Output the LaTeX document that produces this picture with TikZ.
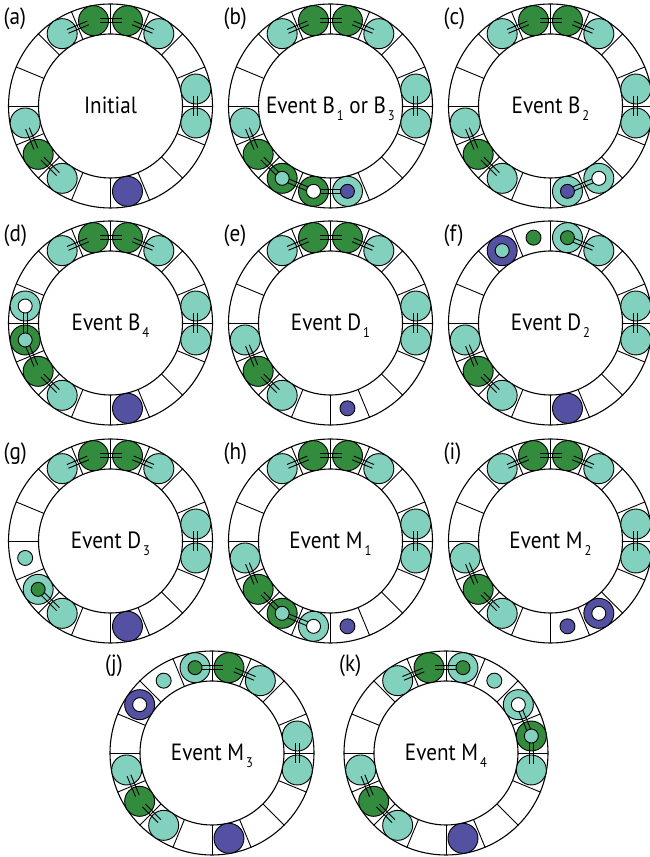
\documentclass[tikz,border=0pt]{standalone}
\usepackage{fontspec}
\setmainfont{PT Sans}[FakeStretch=0.9]
\usetikzlibrary{calc}

\definecolor{tealdisc}{HTML}{82D0BE}
\definecolor{greendisc}{HTML}{338B3E}
\definecolor{bluedisc}{HTML}{5451A3}

\tikzset{
  ringline/.style={line width=1.1pt},
  sectorline/.style={line width=0.9pt},
  discline/.style={draw=black, line width=0.9pt},
  bondline/.style={line width=0.9pt},
  paneltag/.style={font=\fontsize{23.5}{26}\selectfont, inner sep=0pt, anchor=west},
  eventtext/.style={font=\fontsize{23.5}{26}\selectfont, inner sep=0pt, anchor=base},
}

% lowered subscript used in the event names
\newcommand\lowsub[1]{\kern2pt\raisebox{-7pt}{\fontsize{14}{14}\selectfont #1}}

% ring of 16 sectors; coordinates #1-0 ... #1-15 mark the sector centres
\newcommand\drawring[5]{%
  \coordinate (#1) at (#2,#3);
  \draw[ringline] (#1) circle[radius=102pt];
  \draw[ringline] (#1) circle[radius=72pt];
  \foreach \k in {0,...,15}{
    \draw[sectorline] ($(#1)+({22.5*\k}:72pt)$) -- ($(#1)+({22.5*\k}:102pt)$);
    \coordinate (#1-\k) at ($(#1)+({11.25+22.5*\k}:87pt)$);
  }
  \node[paneltag] (#1-tag) at ($(#1)+(-107pt,87pt)$) {(#1)};
  \node[eventtext] (#1-title) at ($(#1)+(0,-8pt)$) {#5};
}

\newcommand\disc[2]{\fill[#2, discline] (#1) circle[radius=15pt];}
\newcommand\hole[2]{\fill[#2, discline] (#1) circle[radius=7pt];}
\newcommand\smalldisc[2]{\fill[#2, discline] (#1) circle[radius=7.5pt];}

% double bond between two sites; #3 and #4 give its reach from the midpoint
\newcommand\bond[4]{%
  \coordinate (bondmid) at ($(#1)!0.5!(#2)$);
  \coordinate (bondp) at ($(bondmid)!#3!(#1)$);
  \coordinate (bondq) at ($(bondmid)!#4!(#2)$);
  \draw[bondline] ($(bondp)!2pt!90:(bondq)$) -- ($(bondq)!2pt!-90:(bondp)$);
  \draw[bondline] ($(bondp)!2pt!-90:(bondq)$) -- ($(bondq)!2pt!90:(bondp)$);
}

\newcommand\topchain[1]{%
  \disc{#1-2}{tealdisc}\disc{#1-3}{greendisc}\disc{#1-4}{greendisc}\disc{#1-5}{tealdisc}
  \bond{#1-2}{#1-3}{11pt}{11pt}\bond{#1-3}{#1-4}{11pt}{11pt}\bond{#1-4}{#1-5}{11pt}{11pt}}
\newcommand\rightpair[1]{%
  \disc{#1-15}{tealdisc}\disc{#1-0}{tealdisc}\bond{#1-15}{#1-0}{10pt}{10pt}}
\newcommand\leftchain[1]{%
  \disc{#1-8}{tealdisc}\disc{#1-9}{greendisc}\disc{#1-10}{tealdisc}
  \bond{#1-8}{#1-9}{11pt}{11pt}\bond{#1-9}{#1-10}{11pt}{11pt}}
\newcommand\bottomdisc[1]{\disc{#1-12}{bluedisc}}

\begin{document}
\begin{tikzpicture}[x=1pt, y=1pt]
\useasboundingbox (0,0) rectangle (649,857);

% (a)
\drawring{a}{110.5}{751}{a}{Initial}
\topchain{a}\rightpair{a}\leftchain{a}\bottomdisc{a}

% (b)
\drawring{b}{330.5}{751}{b}{Event B\lowsub{1} or B\lowsub{3}}
\topchain{b}\rightpair{b}
\disc{b-8}{tealdisc}\disc{b-9}{greendisc}\disc{b-10}{greendisc}\disc{b-11}{greendisc}\disc{b-12}{tealdisc}
\bond{b-8}{b-9}{11pt}{11pt}\bond{b-9}{b-10}{11pt}{17pt}\bond{b-10}{b-11}{17pt}{17pt}\bond{b-11}{b-12}{17pt}{17pt}
\hole{b-10}{tealdisc}\hole{b-11}{white}\hole{b-12}{bluedisc}

% (c)
\drawring{c}{550.5}{751}{c}{Event B\lowsub{2}}
\topchain{c}\rightpair{c}\leftchain{c}
\disc{c-12}{tealdisc}\disc{c-13}{tealdisc}
\bond{c-12}{c-13}{17pt}{17pt}
\hole{c-12}{bluedisc}\hole{c-13}{white}

% (d)
\drawring{d}{110.5}{534}{d}{Event B\lowsub{4}}
\topchain{d}\rightpair{d}\bottomdisc{d}
\disc{d-7}{tealdisc}\disc{d-8}{greendisc}\disc{d-9}{greendisc}\disc{d-10}{tealdisc}
\bond{d-7}{d-8}{17pt}{17pt}\bond{d-8}{d-9}{17pt}{11pt}\bond{d-9}{d-10}{11pt}{11pt}
\hole{d-7}{white}\hole{d-8}{tealdisc}

% (e)
\drawring{e}{330.5}{534}{e}{Event D\lowsub{1}}
\topchain{e}\rightpair{e}\leftchain{e}
\smalldisc{e-12}{bluedisc}

% (f)
\drawring{f}{550.5}{534}{f}{Event D\lowsub{2}}
\rightpair{f}\leftchain{f}\bottomdisc{f}
\disc{f-2}{tealdisc}\disc{f-3}{tealdisc}\disc{f-5}{bluedisc}
\bond{f-3}{f-2}{17pt}{11pt}
\hole{f-3}{greendisc}\hole{f-5}{tealdisc}
\smalldisc{f-4}{greendisc}

% (g)
\drawring{g}{110.5}{316}{g}{Event D\lowsub{3}}
\topchain{g}\rightpair{g}\bottomdisc{g}
\smalldisc{g-8}{tealdisc}
\disc{g-9}{tealdisc}\disc{g-10}{tealdisc}
\bond{g-9}{g-10}{17pt}{11pt}
\hole{g-9}{greendisc}

% (h)
\drawring{h}{330.5}{316}{h}{Event M\lowsub{1}}
\topchain{h}\rightpair{h}
\disc{h-8}{tealdisc}\disc{h-9}{greendisc}\disc{h-10}{greendisc}\disc{h-11}{tealdisc}
\bond{h-8}{h-9}{11pt}{11pt}\bond{h-9}{h-10}{11pt}{17pt}\bond{h-10}{h-11}{17pt}{17pt}
\hole{h-10}{tealdisc}\hole{h-11}{white}
\smalldisc{h-12}{bluedisc}

% (i)
\drawring{i}{550.5}{316}{i}{Event M\lowsub{2}}
\topchain{i}\rightpair{i}\leftchain{i}
\smalldisc{i-12}{bluedisc}
\disc{i-13}{bluedisc}\hole{i-13}{white}

% (j)
\drawring{j}{212}{104}{j}{Event M\lowsub{3}}
\rightpair{j}\leftchain{j}\bottomdisc{j}
\disc{j-2}{tealdisc}\disc{j-3}{greendisc}\disc{j-4}{tealdisc}\disc{j-6}{bluedisc}
\bond{j-2}{j-3}{11pt}{11pt}\bond{j-3}{j-4}{11pt}{17pt}
\hole{j-4}{greendisc}\hole{j-6}{white}
\smalldisc{j-5}{tealdisc}

% (k)
\drawring{k}{446}{104}{k}{Event M\lowsub{4}}
\leftchain{k}\bottomdisc{k}
\disc{k-5}{tealdisc}\disc{k-4}{greendisc}\disc{k-3}{tealdisc}
\disc{k-1}{tealdisc}\disc{k-0}{greendisc}\disc{k-15}{tealdisc}
\bond{k-5}{k-4}{11pt}{11pt}\bond{k-4}{k-3}{11pt}{17pt}
\bond{k-1}{k-0}{17pt}{17pt}\bond{k-0}{k-15}{17pt}{11pt}
\hole{k-3}{greendisc}\hole{k-1}{white}\hole{k-0}{tealdisc}
\smalldisc{k-2}{tealdisc}
\end{tikzpicture}
\end{document}
